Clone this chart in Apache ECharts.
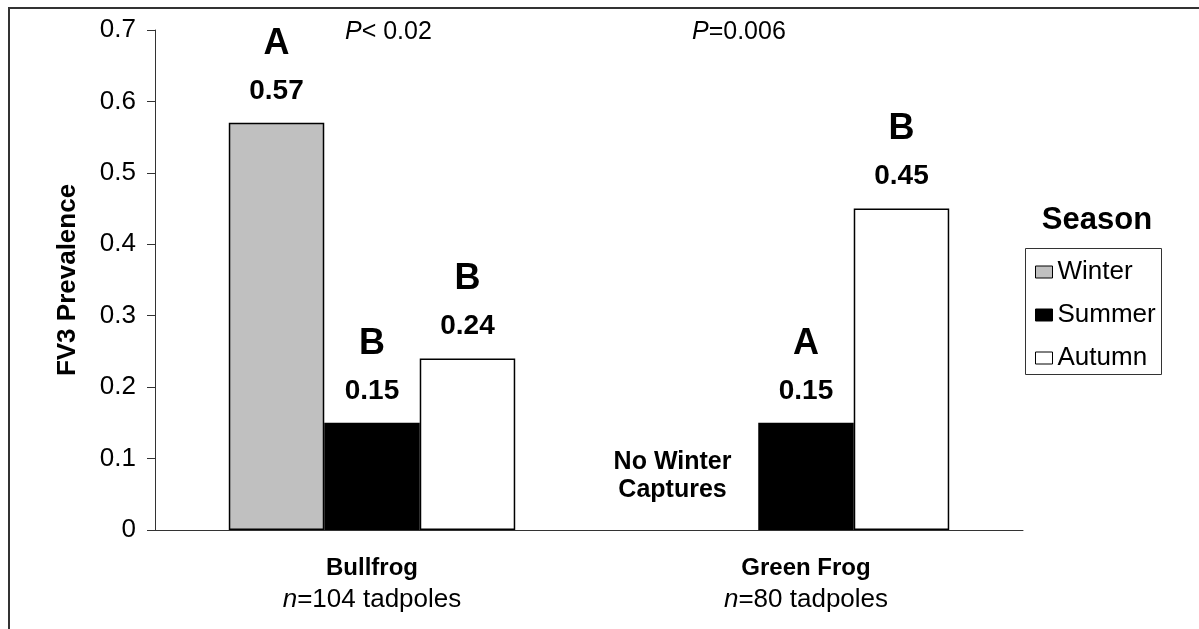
<!DOCTYPE html>
<html><head><meta charset="utf-8">
<script src="https://cdn.jsdelivr.net/npm/echarts@6/dist/echarts.min.js"></script>
<style>html,body{margin:0;padding:0;background:#fff}#c{width:1199px;height:629px}</style>
</head><body><div id="c"></div>
<script>
// ---- data ----
const species = ['Bullfrog', 'Green Frog'];
const sampleSizes = ['104', '80'];
const seasons = ['Winter', 'Summer', 'Autumn'];
const winterValues = [0.57, null];
const summerValues = [0.15, 0.15];
const autumnValues = [0.24, 0.45];
const winterLetters = ['A', null];
const summerLetters = ['B', 'A'];
const autumnLetters = ['B', 'B'];
const pTexts = ['< 0.02', '=0.006'];
const noWinterNote = 'No Winter\nCaptures';
const yMin = 0, yMax = 0.7, yStep = 0.1;

const FONT = '"Liberation Sans", Arial, Helvetica, sans-serif';
const chart = echarts.init(document.getElementById('c'));

function valueLabel(letters) {
  return {
    show: true,
    position: 'top',
    distance: 15,
    fontFamily: FONT,
    formatter: p => `{l|${letters[p.dataIndex]}}\n{v|${Number(p.value).toFixed(2)}}`,
    rich: {
      l: { fontFamily: FONT, fontSize: 36, fontWeight: 'bold', color: '#000', lineHeight: 60, align: 'center' },
      v: { fontFamily: FONT, fontSize: 28, fontWeight: 'bold', color: '#000', lineHeight: 34, align: 'center' }
    }
  };
}

const barBorder = { borderColor: '#000', borderWidth: 1.5 };

const winterData = winterValues.map((v, i) => v == null ? {
  value: 0,
  itemStyle: { borderWidth: 0 },
  label: {
    show: true, position: 'top', distance: 26, offset: [-38, 0],
    formatter: noWinterNote,
    fontFamily: FONT, fontSize: 25, fontWeight: 'bold', color: '#000', lineHeight: 28, align: 'center'
  }
} : v);

const option = {
  backgroundColor: '#fff',
  animation: false,
  grid: { left: 155, right: 176, top: 30, bottom: 99, containLabel: false },
  legend: {
    orient: 'vertical', left: 1035, top: 259, padding: 0,
    itemWidth: 17, itemHeight: 12, itemGap: 17,
    icon: 'rect',
    textStyle: { fontFamily: FONT, fontSize: 26, color: '#000' },
    itemStyle: { borderColor: '#000', borderWidth: 1 },
    data: seasons
  },
  xAxis: {
    type: 'category',
    data: species,
    axisLine: { lineStyle: { color: '#333', width: 1 } },
    axisTick: { length: 8, lineStyle: { color: '#333' } },
    axisLabel: {
      margin: 22,
      formatter: (v, i) => `{b|${v}}\n{i|n}{r|=${sampleSizes[i]} tadpoles}`,
      rich: {
        b: { fontFamily: FONT, fontSize: 24, fontWeight: 'bold', color: '#000', lineHeight: 32 },
        i: { fontFamily: FONT, fontSize: 26, fontStyle: 'italic', color: '#000', lineHeight: 32 },
        r: { fontFamily: FONT, fontSize: 26, color: '#000', lineHeight: 32 }
      }
    }
  },
  yAxis: {
    type: 'value', min: yMin, max: yMax, interval: yStep,
    name: 'FV3 Prevalence', nameLocation: 'middle', nameRotate: 90, nameGap: 74,
    nameTextStyle: { fontFamily: FONT, fontSize: 26, fontWeight: 'bold', color: '#000' },
    axisLine: { show: true, lineStyle: { color: '#333', width: 1 } },
    axisTick: { show: true, length: 8, lineStyle: { color: '#333' } },
    splitLine: { show: false },
    axisLabel: {
      margin: 19, fontFamily: FONT, fontSize: 26, color: '#000',
      formatter: v => v === 0 ? '0' : v.toFixed(1)
    }
  },
  series: [
    { name: seasons[0], type: 'bar', data: winterData, barWidth: '22%', barGap: '0%',
      itemStyle: Object.assign({ color: '#C0C0C0' }, barBorder), label: valueLabel(winterLetters) },
    { name: seasons[1], type: 'bar', data: summerValues, barWidth: '22%', barGap: '0%',
      itemStyle: Object.assign({ color: '#000' }, barBorder), label: valueLabel(summerLetters) },
    { name: seasons[2], type: 'bar', data: autumnValues, barWidth: '22%', barGap: '0%',
      itemStyle: Object.assign({ color: '#fff' }, barBorder), label: valueLabel(autumnLetters) }
  ],
  graphic: [
    { type: 'rect', silent: true, z: 100,
      shape: { x: 9, y: 8, width: 1300, height: 800 },
      style: { fill: 'none', stroke: '#333', lineWidth: 2 } },
    { type: 'rect', silent: true, z: 100,
      shape: { x: 1025.5, y: 248.5, width: 136, height: 126 },
      style: { fill: 'none', stroke: '#333', lineWidth: 1 } },
    { type: 'text', x: 1097, y: 220, silent: true,
      style: { text: 'Season', fontFamily: FONT, fontSize: 31, fontWeight: 'bold', fill: '#000', align: 'center', verticalAlign: 'middle' } },
    { type: 'text', x: 345, y: 32, silent: true,
      style: { text: `{i|P}{r|${pTexts[0]}}`, align: 'left', verticalAlign: 'middle',
        rich: { i: { fontFamily: FONT, fontSize: 25, fontStyle: 'italic', fill: '#000' }, r: { fontFamily: FONT, fontSize: 25, fill: '#000' } } } },
    { type: 'text', x: 692, y: 32, silent: true,
      style: { text: `{i|P}{r|${pTexts[1]}}`, align: 'left', verticalAlign: 'middle',
        rich: { i: { fontFamily: FONT, fontSize: 25, fontStyle: 'italic', fill: '#000' }, r: { fontFamily: FONT, fontSize: 25, fill: '#000' } } } }
  ]
};
chart.setOption(option);
</script>
</body></html>
